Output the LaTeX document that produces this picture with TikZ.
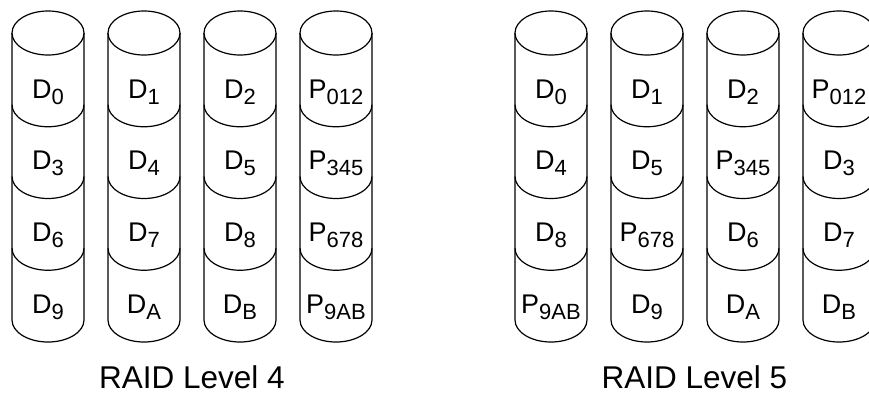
\documentclass[tikz,border=0pt]{standalone}
\usepackage{fontspec}
\setmainfont{Liberation Sans}
\newcommand\lsub[1]{\raisebox{-6pt}{\fontsize{22}{22}\selectfont #1}}
\begin{document}
\begin{tikzpicture}[x=1pt,y=-1pt,
  cyl/.style={line width=1.2pt, line join=round},
  lab/.style={font=\fontsize{27}{30}\selectfont, anchor=base, inner sep=0pt},
  ttl/.style={font=\fontsize{31.5}{35}\selectfont, anchor=base, inner sep=0pt}]
\useasboundingbox (0,0) rectangle (869,394);
\clip (0,0) rectangle (869,394);
\foreach \g/\x/\labs [count=\c] in {
   4/12/{D/0,D/3,D/6,D/9},
   4/108/{D/1,D/4,D/7,D/A},
   4/204/{D/2,D/5,D/8,D/B},
   4/300/{P/012,P/345,P/678,P/9AB},
   5/515/{D/0,D/4,D/8,P/9AB},
   5/611/{D/1,D/5,P/678,D/9},
   5/707/{D/2,P/345,D/6,D/A},
   5/803/{P/012,D/3,D/7,D/B}} {
  \draw[cyl] (\x+36,33) ellipse [x radius=36pt, y radius=22pt];
  \draw[cyl] (\x,33) -- (\x,320) arc [start angle=180, end angle=360, x radius=36pt, y radius=22pt] -- (\x+72,33);
  \foreach \b in {104.75,176.5,248.25}
    \draw[cyl] (\x,\b) arc [start angle=180, end angle=360, x radius=36pt, y radius=22pt];
  \foreach \l/\s [count=\r] in \labs
    \node[lab] (g\g c\c r\r) at (\x+36, 33+71.75*\r-71.75+65) {\l\lsub{\s}};
}
\node[ttl] (t4) at (192,388) {RAID Level 4};
\node[ttl] (t5) at (694.5,388) {RAID Level 5};
\end{tikzpicture}
\end{document}
